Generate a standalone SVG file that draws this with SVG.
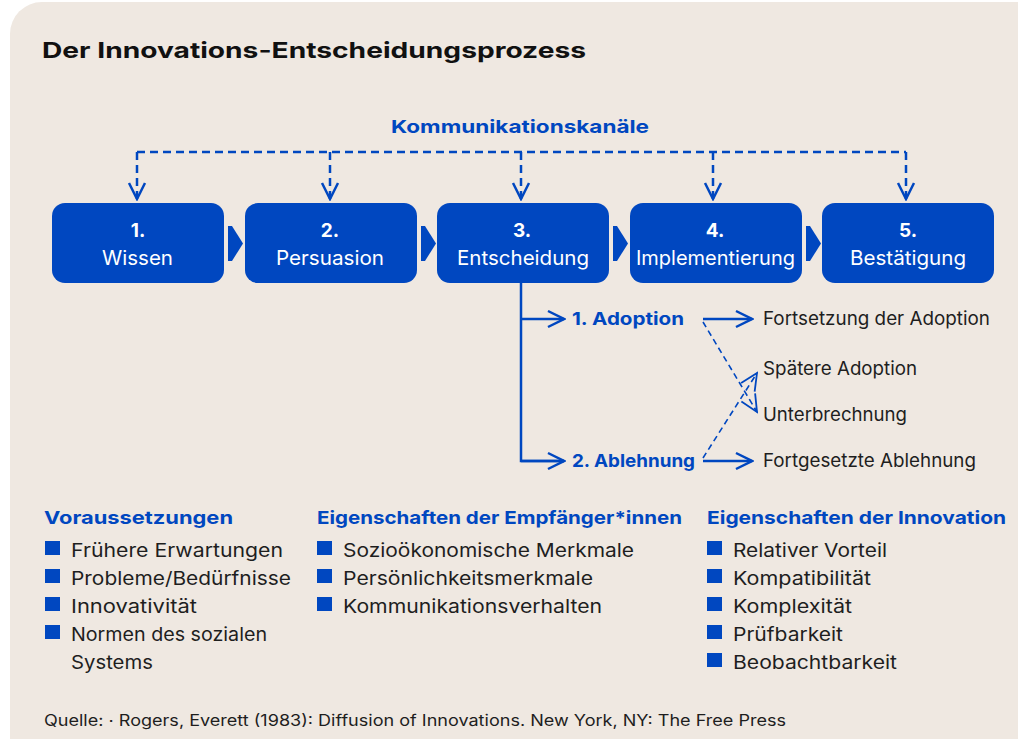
<svg xmlns="http://www.w3.org/2000/svg" width="1018" height="739" viewBox="0 0 1018 739">
<defs>
<style>
.bg{fill:#efe8e1}
.box{fill:#0047c0}
text{font-family:"Inter","Liberation Sans",sans-serif}
.num{font-weight:700;font-size:19px;fill:#fff;text-anchor:middle}
.lbl{font-size:20px;fill:#fff}
.blue{font-weight:700;font-size:18px;fill:#0047c0}
.txt{font-size:18.5px;fill:#1e1e1e}
.src{font-size:15.5px;fill:#1e1e1e}
.dash{stroke:#0047c0;stroke-width:2.5;stroke-dasharray:8 5;fill:none}
.dash2{stroke:#0047c0;stroke-width:1.6;stroke-dasharray:6 4;fill:none}
.solid{stroke:#0047c0;stroke-width:2.5;fill:none}
.bul{fill:#0047c0}
.chev{fill:#0047c0}
</style>
<marker id="open" viewBox="0 0 20 20" refX="18" refY="10" markerWidth="20" markerHeight="20" markerUnits="userSpaceOnUse" orient="auto">
<path d="M2,2 L18,10 L2,18" fill="none" stroke="#0047c0" stroke-width="2.5"/>
</marker>
<marker id="openThin" viewBox="0 0 20 20" refX="18" refY="10" markerWidth="20" markerHeight="20" markerUnits="userSpaceOnUse" orient="auto">
<path d="M1,2 L18,10 L1,18" fill="none" stroke="#0047c0" stroke-width="1.8"/>
</marker>
</defs>
<rect x="0" y="0" width="1018" height="739" fill="#ffffff"/>
<rect class="bg" x="10" y="2" width="1040" height="780" rx="32"/>
<text x="42" y="58" font-weight="700" font-size="22" fill="#111" textLength="544" lengthAdjust="spacingAndGlyphs">Der Innovations-Entscheidungsprozess</text>
<text class="blue" x="391" y="133" textLength="258" lengthAdjust="spacingAndGlyphs">Kommunikationskanäle</text>
<g id="connectors">
<path class="dash" d="M137,152 H906"/>
<path class="dash" d="M137,152 V199" marker-end="url(#open)"/>
<path class="dash" d="M330,152 V199" marker-end="url(#open)"/>
<path class="dash" d="M521,152 V199" marker-end="url(#open)"/>
<path class="dash" d="M713,152 V199" marker-end="url(#open)"/>
<path class="dash" d="M906,152 V199" marker-end="url(#open)"/>
<path class="solid" d="M521,283 V461 H564"/>
<path class="solid" d="M521,319 H564" marker-end="url(#open)"/>
<path class="solid" d="M521,461 H564" marker-end="url(#open)"/>
<path class="solid" d="M703,319 H752" marker-end="url(#open)"/>
<path class="solid" d="M703,461 H752" marker-end="url(#open)"/>
<path class="dash2" d="M703,322 L757,412" marker-end="url(#openThin)"/>
<path class="dash2" d="M703,458 L757,373" marker-end="url(#openThin)"/>
<polygon class="chev" points="228,226 232,226 243,243.5 232,261 228,261"/>
<polygon class="chev" points="421,226 425,226 436,243.5 425,261 421,261"/>
<polygon class="chev" points="613,226 617,226 628,243.5 617,261 613,261"/>
<polygon class="chev" points="806,226 810,226 821,243.5 810,261 806,261"/>
</g>
<g id="n1"><rect class="box" x="52" y="203" width="172" height="80" rx="13"/><text class="num" x="138" y="237">1.</text><text class="lbl" x="102" y="265" textLength="71" lengthAdjust="spacingAndGlyphs">Wissen</text></g>
<g id="n2"><rect class="box" x="245" y="203" width="172" height="80" rx="13"/><text class="num" x="330" y="237">2.</text><text class="lbl" x="276" y="265" textLength="108" lengthAdjust="spacingAndGlyphs">Persuasion</text></g>
<g id="n3"><rect class="box" x="437" y="203" width="172" height="80" rx="13"/><text class="num" x="522" y="237">3.</text><text class="lbl" x="457" y="265" textLength="132" lengthAdjust="spacingAndGlyphs">Entscheidung</text></g>
<g id="n4"><rect class="box" x="630" y="203" width="172" height="80" rx="13"/><text class="num" x="715" y="237">4.</text><text class="lbl" x="636" y="265" textLength="159" lengthAdjust="spacingAndGlyphs">Implementierung</text></g>
<g id="n5"><rect class="box" x="822" y="203" width="172" height="80" rx="13"/><text class="num" x="908" y="237">5.</text><text class="lbl" x="850" y="265" textLength="116" lengthAdjust="spacingAndGlyphs">Bestätigung</text></g>
<g id="adoption"><text class="blue" x="572" y="325" textLength="112" lengthAdjust="spacingAndGlyphs">1. Adoption</text></g>
<g id="ablehnung"><text class="blue" x="572" y="467" textLength="123" lengthAdjust="spacingAndGlyphs">2. Ablehnung</text></g>
<g id="outcomes">
<text class="txt" x="763" y="325" textLength="227" lengthAdjust="spacingAndGlyphs">Fortsetzung der Adoption</text>
<text class="txt" x="763" y="375" textLength="154" lengthAdjust="spacingAndGlyphs">Spätere Adoption</text>
<text class="txt" x="763" y="421" textLength="144" lengthAdjust="spacingAndGlyphs">Unterbrechnung</text>
<text class="txt" x="763" y="467" textLength="213" lengthAdjust="spacingAndGlyphs">Fortgesetzte Ablehnung</text>
</g>
<g id="col1">
<text class="blue" x="44" y="524" textLength="189" lengthAdjust="spacingAndGlyphs">Voraussetzungen</text>
<rect class="bul" x="45" y="541" width="15" height="14"/><text class="txt" x="71" y="557" textLength="212" lengthAdjust="spacingAndGlyphs">Frühere Erwartungen</text>
<rect class="bul" x="45" y="569" width="15" height="14"/><text class="txt" x="71" y="585" textLength="220" lengthAdjust="spacingAndGlyphs">Probleme/Bedürfnisse</text>
<rect class="bul" x="45" y="597" width="15" height="14"/><text class="txt" x="71" y="613" textLength="126" lengthAdjust="spacingAndGlyphs">Innovativität</text>
<rect class="bul" x="45" y="625" width="15" height="14"/><text class="txt" x="71" y="641" textLength="196" lengthAdjust="spacingAndGlyphs">Normen des sozialen</text>
<text class="txt" x="71" y="669" textLength="82" lengthAdjust="spacingAndGlyphs">Systems</text>
</g>
<g id="col2">
<text class="blue" x="317" y="524" textLength="365" lengthAdjust="spacingAndGlyphs">Eigenschaften der Empfänger*innen</text>
<rect class="bul" x="317" y="541" width="15" height="14"/><text class="txt" x="343" y="557" textLength="291" lengthAdjust="spacingAndGlyphs">Sozioökonomische Merkmale</text>
<rect class="bul" x="317" y="569" width="15" height="14"/><text class="txt" x="343" y="585" textLength="250" lengthAdjust="spacingAndGlyphs">Persönlichkeitsmerkmale</text>
<rect class="bul" x="317" y="597" width="15" height="14"/><text class="txt" x="343" y="613" textLength="259" lengthAdjust="spacingAndGlyphs">Kommunikationsverhalten</text>
</g>
<g id="col3">
<text class="blue" x="707" y="524" textLength="299" lengthAdjust="spacingAndGlyphs">Eigenschaften der Innovation</text>
<rect class="bul" x="707" y="541" width="15" height="14"/><text class="txt" x="733" y="557" textLength="154" lengthAdjust="spacingAndGlyphs">Relativer Vorteil</text>
<rect class="bul" x="707" y="569" width="15" height="14"/><text class="txt" x="733" y="585" textLength="138" lengthAdjust="spacingAndGlyphs">Kompatibilität</text>
<rect class="bul" x="707" y="597" width="15" height="14"/><text class="txt" x="733" y="613" textLength="119" lengthAdjust="spacingAndGlyphs">Komplexität</text>
<rect class="bul" x="707" y="625" width="15" height="14"/><text class="txt" x="733" y="641" textLength="110" lengthAdjust="spacingAndGlyphs">Prüfbarkeit</text>
<rect class="bul" x="707" y="653" width="15" height="14"/><text class="txt" x="733" y="669" textLength="164" lengthAdjust="spacingAndGlyphs">Beobachtbarkeit</text>
</g>
<text class="src" x="44" y="726" textLength="742" lengthAdjust="spacingAndGlyphs">Quelle: · Rogers, Everett (1983): Diffusion of Innovations. New York, NY: The Free Press</text>
</svg>
